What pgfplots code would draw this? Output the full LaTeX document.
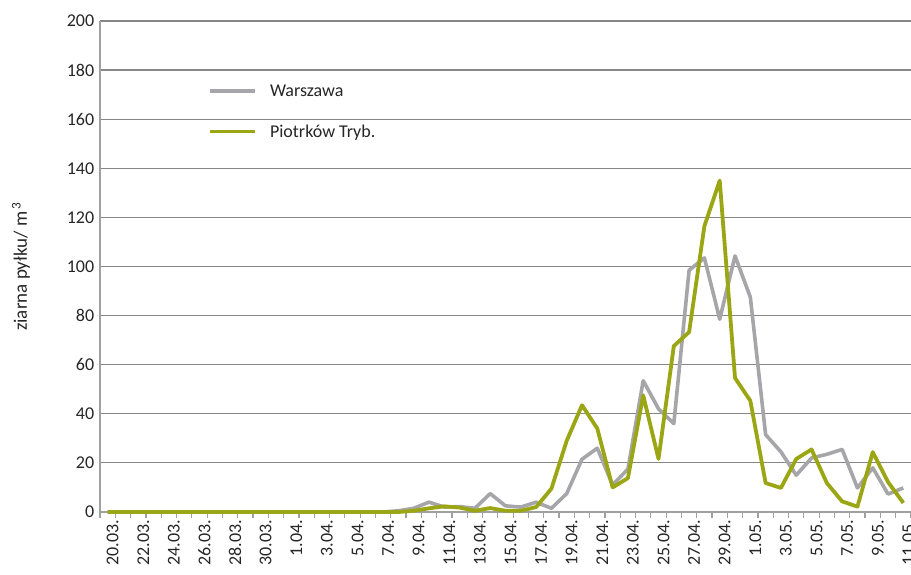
\documentclass[border=0pt]{standalone}
\usepackage{pgfplots}
\pgfplotsset{compat=1.18}
\usepackage{fontspec}
\setmainfont{Carlito}
\definecolor{grs}{RGB}{166,166,170}
\definecolor{ols}{RGB}{155,166,20}
\definecolor{gridc}{RGB}{134,134,134}
\definecolor{axc}{RGB}{160,160,160}
\begin{document}
\begin{tikzpicture}[x=1pt,y=1pt]
\path[use as bounding box] (0,0) rectangle (911,575);
\begin{axis}[
  at={(100pt,63pt)}, anchor=south west,
  scale only axis, width=811pt, height=491pt,
  xmin=-0.5, xmax=52.5, ymin=0, ymax=200,
  ytick={0,20,...,200},
  xtick={0,2,...,52},
  xticklabels={20.03.,22.03.,24.03.,26.03.,28.03.,30.03.,1.04.,3.04.,5.04.,7.04.,9.04.,11.04.,13.04.,15.04.,17.04.,19.04.,21.04.,23.04.,25.04.,27.04.,29.04.,1.05.,3.05.,5.05.,7.05.,9.05.,11.05.},
  minor xtick={-0.5,0.5,...,52.5},
  axis x line*=bottom, axis y line*=left,
  x axis line style={axc, line width=1.8pt},
  y axis line style={axc, line width=1.2pt},
  major x tick style={draw=none},
  minor x tick style={axc, line width=1.2pt},
  ytick style={draw=none},
  minor tick length=6pt, tick align=outside,
  ymajorgrids, major grid style={gridc, line width=1.2pt},
  /pgf/number format/assume math mode=true,
  tick label style={font=\fontsize{18}{20}\selectfont, text=black!85},
  xticklabel style={rotate=90, anchor=east, yshift=-5pt},
  yticklabel style={xshift=2pt},
  ylabel={ziarna pyłku/ m\textsuperscript{\,3}},
  ylabel style={at={(axis description cs:-0.0975,0.5)}, anchor=center, font=\fontsize{19}{21}\selectfont, text=black!85},
  clip=false,
  legend style={draw=none, fill=none, at={(axis description cs:0.1295,0.8157)}, anchor=west,
    font=\fontsize{18}{20}\selectfont, text=black!85, row sep=23pt, legend cell align=left},
  legend image code/.code={\draw[#1] (0pt,0pt) -- (45pt,0pt); \path (56pt,0pt);},
]
\addplot[grs, line width=3.6pt, line join=round] coordinates {
(0,0)(1,0)(2,0)(3,0)(4,0)(5,0)(6,0)(7,0)(8,0)(9,0)(10,0)(11,0)(12,0)(13,0)(14,0)(15,0)(16,0)(17,0)
(18,0)(19,0.5)(20,1.5)(21,4)(22,2)(23,2.2)(24,1.5)(25,7.5)(26,2.5)(27,2)(28,4)(29,1.5)
(30,7.5)(31,21.5)(32,26)(33,11)(34,17.5)(35,53.5)(36,42)(37,36)(38,98.5)(39,103.5)
(40,78.5)(41,104.3)(42,87.5)(43,31.5)(44,24.5)(45,15)(46,22)(47,23.5)(48,25.5)(49,9.8)
(50,18)(51,7.3)(52,9.8)
};
\addlegendentry{Warszawa}
\addplot[ols, line width=3.8pt, line join=round] coordinates {
(0,0)(1,0)(2,0)(3,0)(4,0)(5,0)(6,0)(7,0)(8,0)(9,0)(10,0)(11,0)(12,0)(13,0)(14,0)(15,0)(16,0)(17,0)
(18,0)(19,0)(20,0.5)(21,1.5)(22,2.3)(23,1.8)(24,0.5)(25,1.6)(26,0.5)(27,0.5)(28,2)(29,9.5)
(30,29)(31,43.5)(32,34)(33,10)(34,13.8)(35,47.5)(36,21.6)(37,67.6)(38,73.3)(39,116.5)
(40,135)(41,54.6)(42,45.3)(43,11.8)(44,9.8)(45,21.6)(46,25.5)(47,11.8)(48,4.3)(49,2.2)
(50,24.4)(51,12.2)(52,3.7)
};
\addlegendentry{Piotrków Tryb.}
\end{axis}
\end{tikzpicture}
\end{document}
